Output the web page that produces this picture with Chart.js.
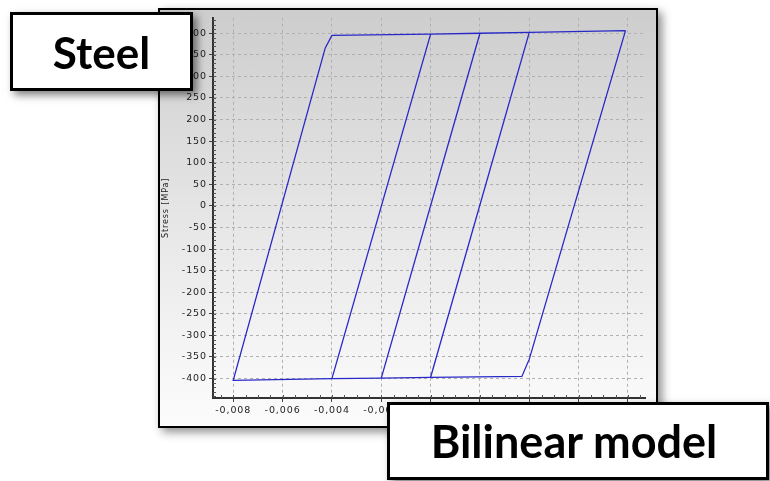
<!DOCTYPE html>
<html>
<head>
<meta charset="utf-8">
<script src="https://cdn.jsdelivr.net/npm/chart.js@4"></script>
<style>
	html, body { margin: 0; padding: 0; background: #fff; }
	body { width: 770px; height: 481px; position: relative; overflow: hidden; }
	#frame {
		position: absolute; left: 158px; top: 8px; width: 496px; height: 416px;
		border: 2px solid #000;
		background: linear-gradient( #cdcdcd, #e6e6e6 50%, #f8f8f8 90%, #fbfbfb );
		box-shadow: 4px 4px 9px rgba( 0, 0, 0, .45 );
	}
	#frame canvas { display: block; }
	.label {
		position: absolute; background: #fff; border: 3px solid #000;
		box-shadow: 4px 4px 8px rgba( 0, 0, 0, .5 );
		font-family: Lato, 'Open Sans', sans-serif; font-weight: bold; color: #000;
		display: flex; align-items: center; justify-content: center; box-sizing: border-box;
	}
	#steel { left: 10px; top: 12px; width: 183px; height: 79px; font-size: 44px; }
	#model { left: 387px; top: 402px; width: 382px; height: 78px; font-size: 45px; padding-right: 8px; }
</style>
</head>
<body>

<div id="frame"><canvas id="chart" width="496" height="416"></canvas></div>
<div class="label" id="steel">Steel</div>
<div class="label" id="model">Bilinear model</div>

<script>

// outer hysteresis loop (strain [-], stress [MPa])
const outerStrain = [ 0.0079, 0.0040, 0.0037, 0.0000, -0.0020, -0.0040, -0.0080, -0.00427, -0.0040, 0.0000, 0.0020, 0.0040, 0.0079 ];
const outerStress = [ 406, -355, -395, -397, -399, -400, -404, 366, 395, 398, 400, 402, 406 ];

// inner unloading / reloading branches
const branch1Strain = [ 0.0000, -0.0040 ];
const branch1Stress = [ 398, -400 ];
const branch2Strain = [ -0.0020, 0.0020 ];
const branch2Stress = [ -399, 400 ];
const branch3Strain = [ 0.0040, 0.0000 ];
const branch3Stress = [ 402, -397 ];

const xTicks = [ -0.008, -0.006, -0.004, -0.002, 0, 0.002, 0.004, 0.006, 0.008 ];
const yTicks = [ -400, -350, -300, -250, -200, -150, -100, -50, 0, 50, 100, 150, 200, 250, 300, 350, 400 ];

const pts = ( xs, ys ) => xs.map( ( x, i ) => ( { x: x, y: ys[i] } ) );

const lineColor = '#2828c8';
const font = { family: "'DejaVu Sans', Verdana, sans-serif", size: 9.5 };

const mkSet = ( xs, ys ) => ( {
	data: pts( xs, ys ),
	showLine: true,
	borderColor: lineColor,
	borderWidth: 1.3,
	pointRadius: 0,
	tension: 0,
	fill: false
} );

// wider text like the original, and small inner ticks along the axes
const axisDeco = {
	id: 'axisDeco',
	beforeDraw( c ) {
		c.ctx.letterSpacing = '0.9px';
	},
	afterDraw( c ) {
		const ctx = c.ctx, a = c.chartArea;
		const x = c.scales.x, y = c.scales.y;
		ctx.save();
		ctx.strokeStyle = '#555';
		ctx.lineWidth = 1;
		ctx.beginPath();
		for ( let v = Math.ceil( x.min / 0.0005 ) * 0.0005; v <= x.max; v += 0.0005 ) {
			const px = Math.round( x.getPixelForValue( v ) ) + .5;
			ctx.moveTo( px, a.bottom );
			ctx.lineTo( px, a.bottom - 3 );
		}
		for ( let v = Math.ceil( y.min / 10 ) * 10; v <= y.max; v += 10 ) {
			const py = Math.round( y.getPixelForValue( v ) ) + .5;
			ctx.moveTo( a.left, py );
			ctx.lineTo( a.left + 3, py );
		}
		ctx.stroke();
		ctx.restore();
	}
};

new Chart( 'chart', {
	type: 'scatter',
	data: {
		datasets: [
			mkSet( outerStrain, outerStress ),
			mkSet( branch1Strain, branch1Stress ),
			mkSet( branch2Strain, branch2Stress ),
			mkSet( branch3Strain, branch3Stress )
		]
	},
	options: {
		responsive: false,
		animation: false,
		layout: { padding: { top: 1, right: 11, left: 0, bottom: 0 } },
		plugins: {
			legend: { display: false },
			tooltip: { enabled: false }
		},
		scales: {
			x: {
				type: 'linear',
				min: -0.00882,
				max: 0.00869,
				afterBuildTicks: s => { s.ticks = xTicks.map( v => ( { value: v } ) ); },
				afterFit: s => { s.height = 28; },
				ticks: {
					font: font,
					color: '#222',
					padding: 3,
					maxRotation: 0,
					callback: v => v === 0 ? '0' : v.toFixed( 3 ).replace( '.', ',' )
				},
				grid: { color: '#b0b0b0', tickColor: '#444', tickLength: 4 },
				border: { display: true, color: '#333', width: 2, dash: [ 3, 3 ] }
			},
			y: {
				min: -445,
				max: 436,
				afterBuildTicks: s => { s.ticks = yTicks.map( v => ( { value: v } ) ); },
				afterFit: s => { s.width = 53; },
				title: { display: true, text: 'Stress [MPa]', font: { family: font.family, size: 8 }, color: '#222', padding: 1 },
				ticks: { font: font, color: '#222', padding: 2 },
				grid: { color: '#b0b0b0', tickColor: '#444', tickLength: 4 },
				border: { display: true, color: '#333', width: 2, dash: [ 3, 3 ] }
			}
		}
	},
	plugins: [ axisDeco ]
} );

</script>
</body>
</html>
